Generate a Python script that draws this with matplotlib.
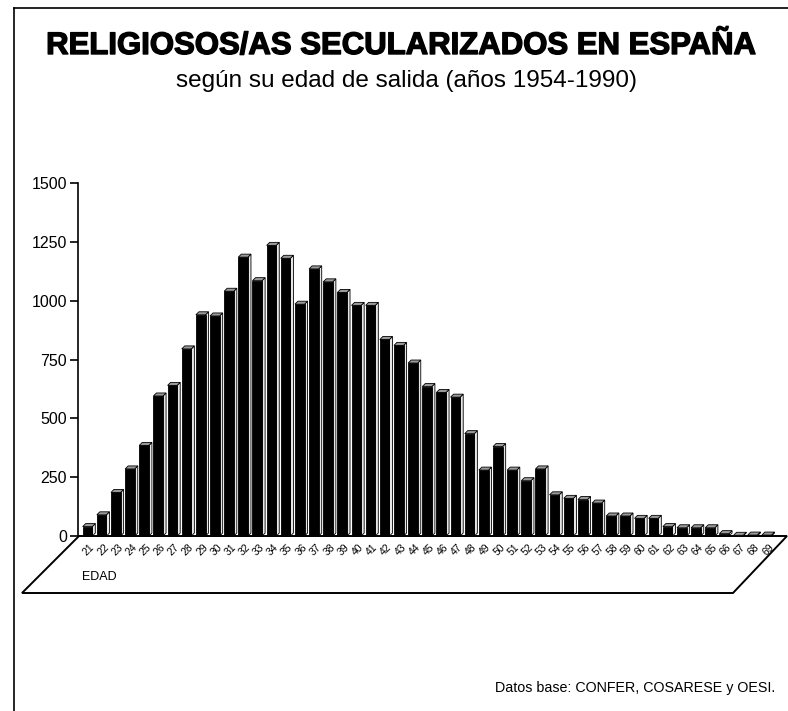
#!/usr/bin/env python3
"""
Religiosos/as secularizados en España según edad de salida (1954-1990).
Pseudo-3D bar chart drawn on a slanted floor, saved to out.png.
"""
import matplotlib
matplotlib.use("Agg")
import matplotlib.pyplot as plt
import matplotlib.patheffects as pe
from matplotlib.patches import Polygon
from matplotlib.lines import Line2D

plt.rcParams["font.family"] = ["Liberation Sans", "DejaVu Sans"]

# ── data ─────────────────────────────────────────────────────────────────────
EDADES  = list(range(21, 70))
SALIDAS = [40, 90, 185, 285, 385, 595, 640, 795, 940, 935,
           1040, 1185, 1085, 1235, 1180, 985, 1135, 1080, 1035, 980,
           980, 835, 810, 735, 635, 610, 590, 435, 280, 380,
           280, 235, 285, 175, 160, 155, 140, 85, 85, 75,
           75, 40, 35, 35, 35, 10, 3, 4, 4]
YTICKS  = [0, 250, 500, 750, 1000, 1250, 1500]

TITULO    = "RELIGIOSOS/AS SECULARIZADOS EN ESPAÑA"
SUBTITULO = "según su edad de salida (años 1954-1990)"
FUENTE    = "Datos base: CONFER, COSARESE y OESI."
EJE_X     = "EDAD"

# ── geometry (pixels of the 788x711 page) ────────────────────────────────────
W, H   = 788, 711
PX0    = 87.5          # centre of first bar
PITCH  = 14.15         # bar spacing
Y0     = 536           # pixel row of value 0
PXV    = 353 / 1500    # pixels per unit
BW     = 0.68          # bar width (in bar units)
DX, DY = 3 / PITCH, 3 / PXV   # depth offset of side/top faces

def xd(px):  return (px - PX0) / PITCH
def yd(py):  return (Y0 - py) / PXV

fig = plt.figure(figsize=(W / 100, H / 100), dpi=100)
ax = fig.add_axes([0, 0, 1, 1])
ax.set_xlim(xd(0), xd(W))
ax.set_ylim(yd(H), yd(0))
ax.patch.set_visible(False)

for s in ("top", "right", "bottom"):
    ax.spines[s].set_visible(False)
ax.spines["left"].set_position(("data", xd(78)))
ax.spines["left"].set_bounds(0, 1500)
ax.spines["left"].set_linewidth(1.2)
ax.set_yticks(YTICKS)
ax.set_yticklabels([str(t) for t in YTICKS], fontsize=11.5)
ax.tick_params(axis="y", direction="out", length=6, width=1.2, pad=2)
ax.set_xticks([])

# ── floor ────────────────────────────────────────────────────────────────────
ylo = yd(593)
floor = Polygon([(xd(79), 0), (xd(787), 0), (xd(733), ylo), (xd(22), ylo)],
                closed=True, facecolor="white", edgecolor="black", lw=1.4,
                zorder=1)
ax.add_patch(floor)

# ── bars ─────────────────────────────────────────────────────────────────────
xs = list(range(len(EDADES)))
ax.bar(xs, SALIDAS, width=BW, color="black", edgecolor="black", lw=0.6,
       zorder=3)
for x, v in zip(xs, SALIDAS):
    r, l = x + BW / 2, x - BW / 2
    side = Polygon([(r, 0), (r + DX, DY), (r + DX, v + DY), (r, v)],
                   closed=True, facecolor="#e6e6e6", edgecolor="black",
                   lw=0.6, zorder=2.5)
    top = Polygon([(l, v), (r, v), (r + DX, v + DY), (l + DX, v + DY)],
                  closed=True, facecolor="#9a9a9a", edgecolor="black",
                  lw=0.6, zorder=3.5)
    ax.add_patch(side); ax.add_patch(top)
    ax.text(x + 0.1, yd(550), str(EDADES[x]), rotation=45, ha="center",
            va="center", fontsize=7.5, zorder=4)

ax.text(xd(82), yd(577), EJE_X, ha="left", va="center", fontsize=9)

# ── page frame and texts ─────────────────────────────────────────────────────
fig.add_artist(Line2D([14 / W, 14 / W], [0, 1 - 8 / H],
                      transform=fig.transFigure, color="black", lw=1.2))
fig.add_artist(Line2D([14 / W, 1], [1 - 8 / H, 1 - 8 / H],
                      transform=fig.transFigure, color="black", lw=1.2))

fig.text(401 / W, 1 - 46 / H, TITULO, ha="center", va="center",
         fontsize=22.4, fontweight="bold",
         path_effects=[pe.withStroke(linewidth=1.0, foreground="black")])
fig.text(407 / W, 1 - 81 / H, SUBTITULO, ha="center", va="center",
         fontsize=17.5)
fig.text(775 / W, 1 - 688 / H, FUENTE, ha="right", va="center",
         fontsize=10.3)

fig.savefig("out.png", dpi=100)
